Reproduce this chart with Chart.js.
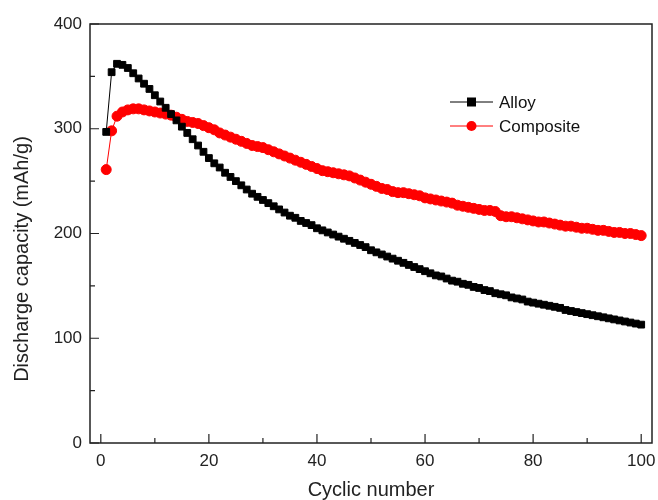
<!DOCTYPE html>
<html>
<head>
<meta charset="utf-8">
<script src="https://cdn.jsdelivr.net/npm/chart.js@4/dist/chart.umd.min.js"></script>
<style>
  html, body { margin: 0; padding: 0; background: #fff; }
  #wrap { width: 658px; height: 500px; }
</style>
</head>
<body>
<div id="wrap"><canvas id="chart"></canvas></div>
<script>
// cycle index 1..100
const cycles = [
  1,2,3,4,5,6,7,8,9,10,11,12,13,14,15,16,17,18,19,20,
  21,22,23,24,25,26,27,28,29,30,31,32,33,34,35,36,37,38,39,40,
  41,42,43,44,45,46,47,48,49,50,51,52,53,54,55,56,57,58,59,60,
  61,62,63,64,65,66,67,68,69,70,71,72,73,74,75,76,77,78,79,80,
  81,82,83,84,85,86,87,88,89,90,91,92,93,94,95,96,97,98,99,100
];

// Alloy discharge capacity (mAh/g)
const alloyCapacity = [
  297,354,362,361,358,353,348,343,338,332,326,320,314,308,302,296,290,284,278,272,
  267,263,258,254,250,246,242,238,235,232,229,226,223,220,217,215,212,210,208,205,
  203,201,199,197,195,193,191,189,187,184,182,180,178,176,174,172,170,168,166,164,
  162,160,159,157,155,154,152,151,149,148,146,145,143,142,141,139,138,137,135,134,
  133,132,131,130,129,127,126,125,124,123,122,121,120,119,118,117,116,115,114,113
];

// Composite discharge capacity (mAh/g)
const compositeCapacity = [
  261,298,312,316,318,319,319,318,317,316,315,314,313,311,309,307,306,305,303,301,
  299,296,294,292,290,288,286,284,283,282,280,278,276,274,272,270,268,266,264,262,
  260,259,258,257,256,255,253,251,249,247,245,243,242,240,239,239,238,237,236,234,
  233,232,231,230,229,227,226,225,224,223,222,222,221,217,216,216,215,214,213,212,
  211,211,210,209,208,207,207,206,205,205,204,203,203,202,201,201,200,200,199,198
];

const xMajorTicks = [0, 20, 40, 60, 80, 100];
const xMinorTicks = [10, 30, 50, 70, 90];
const yMajorTicks = [0, 100, 200, 300, 400];
const yMinorTicks = [50, 150, 250, 350];

const xTitle = 'Cyclic number';
const yTitle = 'Discharge capacity (mAh/g)';

const FONT = "'Liberation Sans', Arial, sans-serif";

// frame, inward ticks, axis titles and the legend
const framePlugin = {
  id: 'frame',
  afterDraw(chart) {
    const { ctx, chartArea: a, scales } = chart;
    const xs = scales.x, ys = scales.y;
    ctx.save();
    ctx.strokeStyle = '#222';
    ctx.lineWidth = 1.5;
    ctx.strokeRect(a.left, a.top, a.right - a.left, a.bottom - a.top);

    ctx.lineWidth = 1.2;
    ctx.beginPath();
    xMajorTicks.forEach(v => { const p = xs.getPixelForValue(v); ctx.moveTo(p, a.bottom); ctx.lineTo(p, a.bottom - 9); });
    xMinorTicks.forEach(v => { const p = xs.getPixelForValue(v); ctx.moveTo(p, a.bottom); ctx.lineTo(p, a.bottom - 5); });
    yMajorTicks.forEach(v => { const p = ys.getPixelForValue(v); ctx.moveTo(a.left, p); ctx.lineTo(a.left + 9, p); });
    yMinorTicks.forEach(v => { const p = ys.getPixelForValue(v); ctx.moveTo(a.left, p); ctx.lineTo(a.left + 5, p); });
    ctx.stroke();

    // axis titles
    ctx.fillStyle = '#222';
    ctx.font = '20px ' + FONT;
    ctx.textAlign = 'center';
    ctx.textBaseline = 'middle';
    ctx.fillText(xTitle, (a.left + a.right) / 2, 490);
    ctx.save();
    ctx.translate(22, 259);
    ctx.rotate(-Math.PI / 2);
    ctx.fillText(yTitle, 0, 0);
    ctx.restore();

    // legend (inside plot)
    const lx = 450, ly = 102, gap = 24;
    ctx.textAlign = 'left';
    chart.data.datasets.forEach((ds, i) => {
      const y = ly + i * gap;
      ctx.strokeStyle = ds.borderColor;
      ctx.lineWidth = 1;
      ctx.beginPath(); ctx.moveTo(lx, y); ctx.lineTo(lx + 43, y); ctx.stroke();
      ctx.fillStyle = ds.pointBackgroundColor;
      if (ds.pointStyle === 'rect') {
        ctx.fillRect(lx + 17, y - 4.5, 9, 9);
      } else {
        ctx.beginPath(); ctx.arc(lx + 21.5, y, 5, 0, Math.PI * 2); ctx.fill();
      }
      ctx.fillStyle = '#111';
      ctx.font = '17px ' + FONT;
      ctx.fillText(ds.label, lx + 49, y + 1);
    });
    ctx.restore();
  }
};

new Chart(document.getElementById('chart'), {
  type: 'line',
  data: {
    labels: cycles,
    datasets: [
      {
        label: 'Alloy',
        data: cycles.map((c, i) => ({ x: c, y: alloyCapacity[i] })),
        borderColor: '#000',
        backgroundColor: '#000',
        pointBackgroundColor: '#000',
        pointBorderColor: '#000',
        pointStyle: 'rect',
        pointRadius: 4.8,
        borderWidth: 1,
        tension: 0
      },
      {
        label: 'Composite',
        data: cycles.map((c, i) => ({ x: c, y: compositeCapacity[i] })),
        borderColor: '#ff0000',
        backgroundColor: '#ff0000',
        pointBackgroundColor: '#ff0000',
        pointBorderColor: '#ff0000',
        pointStyle: 'circle',
        pointRadius: 5,
        borderWidth: 1,
        tension: 0
      }
    ]
  },
  options: {
    responsive: true,
    maintainAspectRatio: false,
    animation: false,
    layout: { padding: { top: 24, right: 6, left: 0, bottom: 0 } },
    plugins: {
      legend: { display: false },
      tooltip: { enabled: false }
    },
    scales: {
      x: {
        type: 'linear',
        min: -2,
        max: 102,
        afterBuildTicks: (s) => { s.ticks = xMajorTicks.map(v => ({ value: v })); },
        afterFit: (s) => { s.height = 57; s.paddingRight = 0; s.paddingLeft = 0; },
        ticks: { color: '#222', font: { family: FONT, size: 17 }, padding: 8, maxRotation: 0 },
        grid: { display: true, drawOnChartArea: false, drawTicks: false },
        border: { display: false },
        title: { display: false }
      },
      y: {
        min: 0,
        max: 400,
        afterBuildTicks: (s) => { s.ticks = yMajorTicks.map(v => ({ value: v })); },
        afterFit: (s) => { s.width = 90; s.paddingTop = 0; s.paddingBottom = 0; },
        ticks: { color: '#222', font: { family: FONT, size: 17 }, padding: 8 },
        grid: { display: true, drawOnChartArea: false, drawTicks: false },
        border: { display: false },
        title: { display: false }
      }
    }
  },
  plugins: [framePlugin]
});
</script>
</body>
</html>
